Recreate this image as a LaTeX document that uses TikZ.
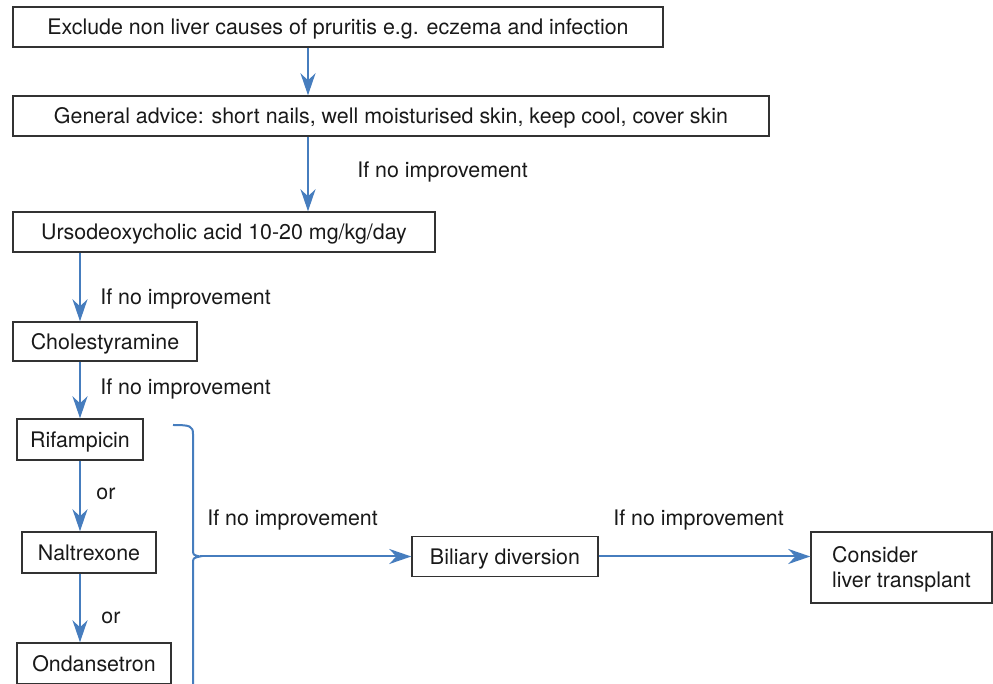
\documentclass[tikz,border=0pt]{standalone}
\usepackage{fontspec}
\setmainfont{TeX Gyre Heros}
\usetikzlibrary{arrows.meta}
\definecolor{flowblue}{RGB}{70,125,190}
\definecolor{boxgray}{RGB}{50,50,50}
\begin{document}
\begin{tikzpicture}[x=0.5pt,y=-0.5pt,
	every node/.style={font=\fontsize{10.7}{12.5}\selectfont,text=black!90},
	box/.style={draw=boxgray,line width=0.7pt,inner sep=0pt,minimum height=20pt,text depth=0pt},
	flow/.style={draw=flowblue,line width=1pt,-{Stealth[length=11pt,width=7.5pt,inset=3.5pt]}},
	lbl/.style={anchor=west,inner sep=0pt,text depth=0pt}]
	\useasboundingbox (0,0) rectangle (993,684);
	\clip (0,0) rectangle (993,684);
	\node[box,minimum width=325pt] (excl) at (338,27) {Exclude non liver causes of pruritis e.g. eczema and infection};
	\node[box,minimum width=378pt] (advice) at (391,116) {General advice: short nails, well moisturised skin, keep cool, cover skin};
	\node[box,minimum width=211pt] (urso) at (224,232) {Ursodeoxycholic acid 10-20 mg/kg/day};
	\node[box,minimum width=92pt,minimum height=19.5pt] (chol) at (105,341.5) {Cholestyramine};
	\node[box,minimum width=63pt,minimum height=20.5pt] (rif) at (80,439.5) {Rifampicin};
	\node[box,minimum width=67pt,minimum height=20.5pt] (nal) at (89,552.5) {Naltrexone};
	\node[box,minimum width=77pt,minimum height=20.5pt] (ond) at (94,663.5) {Ondansetron};
	\node[box,minimum width=93pt] (bil) at (505,556.5) {Biliary diversion};
	\node[box,minimum width=90.5pt,minimum height=35.5pt,align=left] (liver) at (901.5,567.5) {Consider\\liver transplant};
	% labels
	\foreach \x/\y [count=\i] in {357/170,100/297,100/387,207/518,613/518}
		\node[lbl] (imp\i) at (\x,\y) {If no improvement};
	\node[lbl] (or1) at (96,494) {or};
	\node[lbl] (or2) at (101,618) {or};
	% main line
	\coordinate (ax) at (308,0);
	\draw[flow] (excl.south -| ax) -- (advice.north -| ax);
	\draw[flow] (advice.south -| ax) -- (urso.north -| ax);
	\draw[flow] (urso.south -| rif) -- (chol.north -| rif);
	\draw[flow] (chol.south -| rif) -- (rif.north);
	\draw[flow] (rif.south) -- (nal.north -| rif);
	\draw[flow] (nal.south -| rif) -- (ond.north -| rif);
	% brace
	\coordinate (tip) at (200,556.5);
	\draw[flowblue,line width=1pt] (173,425) .. controls (190,425) and (193,426) .. (193,434) -- (193,549)
		.. controls (193,555) .. (tip) .. controls (193,558) .. (193,564) -- (193,700);
	\draw[flow] (tip) -- (bil.west);
	\draw[flow] (bil.east) -- (bil.east -| liver.west);
\end{tikzpicture}
\end{document}
